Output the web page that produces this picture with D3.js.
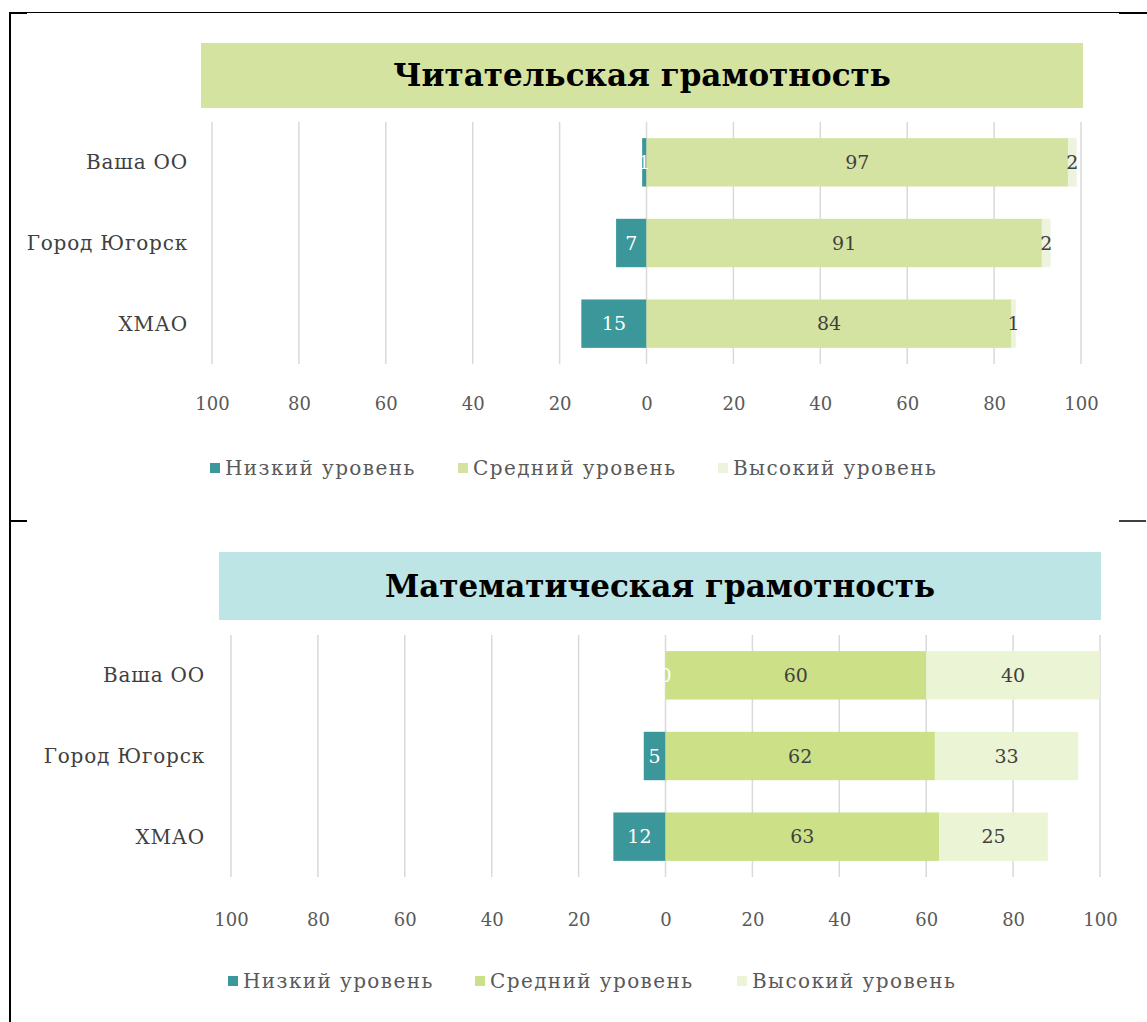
<!DOCTYPE html>
<html>
<head>
<meta charset="utf-8">
<script src="https://cdn.jsdelivr.net/npm/d3@7"></script>
<style>
    body { margin: 0; background: #fff; }
    svg { display: block; }
</style>
</head>
<body>
<div id="chart"></div>
<script>
// Data
const categories = ['Ваша ОО', 'Город Югорск', 'ХМАО'];
const seriesNames = ['Низкий уровень', 'Средний уровень', 'Высокий уровень'];
const axisTicks = [-100, -80, -60, -40, -20, 0, 20, 40, 60, 80, 100];

const readingTitle = 'Читательская грамотность';
const readingLow = [1, 7, 15];
const readingMid = [97, 91, 84];
const readingHigh = [2, 2, 1];

const mathTitle = 'Математическая грамотность';
const mathLow = [0, 5, 12];
const mathMid = [60, 62, 63];
const mathHigh = [40, 33, 25];

const W = 1147, H = 1022;
const FONT = '"DejaVu Serif", "Liberation Serif", serif';
const TEAL = '#3b9799';

const svg = d3.select('#chart').append('svg')
    .attr('width', W)
    .attr('height', H);

// page frame lines
const frame = svg.append('g').attr('stroke', '#000');
frame.append('line').attr('x1', 10).attr('y1', 12).attr('x2', 10).attr('y2', H).attr('stroke-width', 2);
frame.append('line').attr('x1', 10).attr('y1', 12.5).attr('x2', W).attr('y2', 12.5).attr('stroke-width', 1);
frame.append('line').attr('x1', 10).attr('y1', 13).attr('x2', 27).attr('y2', 13).attr('stroke-width', 2);
frame.append('line').attr('x1', 1119).attr('y1', 13).attr('x2', W).attr('y2', 13).attr('stroke-width', 2);
frame.append('line').attr('x1', 10).attr('y1', 521).attr('x2', 27).attr('y2', 521).attr('stroke-width', 2);
frame.append('line').attr('x1', 1119).attr('y1', 521).attr('x2', 1146).attr('y2', 521).attr('stroke-width', 1.5);

function drawPanel(opt) {
    const g = svg.append('g');

    // title box
    g.append('rect')
        .attr('x', opt.titleBox[0])
        .attr('y', opt.titleBox[1])
        .attr('width', opt.titleBox[2])
        .attr('height', opt.titleBox[3])
        .attr('fill', opt.titleFill);
    g.append('text')
        .attr('x', opt.titleBox[0] + opt.titleBox[2] / 2)
        .attr('y', opt.titleBox[1] + opt.titleBox[3] / 2)
        .attr('dy', '0.35em')
        .attr('text-anchor', 'middle')
        .style('font-family', FONT)
        .style('font-size', '31px')
        .style('font-weight', '700')
        .style('fill', '#000')
        .text(opt.title);

    const x = d3.scaleLinear().domain([-100, 100]).range([opt.x0, opt.x1]);
    const y = d3.scaleBand()
        .domain(categories)
        .range([opt.yTop, opt.yBottom])
        .paddingInner(0.4)
        .paddingOuter(0.2);

    // vertical gridlines
    g.append('g')
        .selectAll('line')
        .data(axisTicks)
        .join('line')
        .attr('x1', d => x(d))
        .attr('x2', d => x(d))
        .attr('y1', opt.yTop)
        .attr('y2', opt.yBottom)
        .attr('stroke', '#d9d9d9')
        .attr('stroke-width', 1.5);

    // stacked segments
    const rows = categories.map((c, i) => {
        const low = opt.low[i], mid = opt.mid[i], high = opt.high[i];
        return [
            { cat: c, s: 0, v: low, from: -low, to: 0 },
            { cat: c, s: 1, v: mid, from: 0, to: mid },
            { cat: c, s: 2, v: high, from: mid, to: mid + high }
        ];
    }).flat();

    g.append('g')
        .selectAll('rect')
        .data(rows)
        .join('rect')
        .attr('x', d => x(d.from))
        .attr('y', d => y(d.cat))
        .attr('width', d => x(d.to) - x(d.from))
        .attr('height', y.bandwidth())
        .attr('fill', d => opt.colors[d.s]);

    g.append('g')
        .selectAll('text')
        .data(rows)
        .join('text')
        .attr('x', d => (x(d.from) + x(d.to)) / 2)
        .attr('y', d => y(d.cat) + y.bandwidth() / 2)
        .attr('dy', '0.35em')
        .attr('text-anchor', 'middle')
        .style('font-family', FONT)
        .style('font-size', '19px')
        .style('fill', d => d.s === 0 ? '#fff' : '#404040')
        .text(d => d.v);

    // category labels
    g.append('g')
        .selectAll('text')
        .data(categories)
        .join('text')
        .attr('x', opt.catX)
        .attr('y', d => y(d) + y.bandwidth() / 2)
        .attr('dy', '0.35em')
        .attr('text-anchor', 'end')
        .style('font-family', FONT)
        .style('font-size', '20px')
        .style('letter-spacing', '0.8px')
        .style('fill', '#404040')
        .text(d => d);

    // bottom axis (absolute values)
    const axis = g.append('g')
        .attr('transform', `translate(0,${opt.tickY})`)
        .call(d3.axisBottom(x).tickValues(axisTicks).tickSize(0).tickFormat(d => Math.abs(d)));
    axis.select('.domain').remove();
    axis.selectAll('text')
        .style('font-family', FONT)
        .style('font-size', '18px')
        .style('fill', '#595959');

    // legend
    const legend = g.append('g')
        .selectAll('g')
        .data(seriesNames)
        .join('g')
        .attr('transform', (d, i) => `translate(${opt.legendX[i]},${opt.legendY})`);
    legend.append('rect')
        .attr('x', 0)
        .attr('y', -5)
        .attr('width', 10)
        .attr('height', 10)
        .attr('fill', (d, i) => opt.colors[i]);
    legend.append('text')
        .attr('x', 15)
        .attr('y', 0)
        .attr('dy', '0.35em')
        .style('font-family', FONT)
        .style('font-size', '20px')
        .style('letter-spacing', '1.4px')
        .style('fill', '#595959')
        .text(d => d);
}

drawPanel({
    title: readingTitle,
    titleBox: [201, 43, 882, 65],
    titleFill: '#d5e3a1',
    low: readingLow, mid: readingMid, high: readingHigh,
    colors: [TEAL, '#d5e3a2', '#eef3dd'],
    x0: 212, x1: 1081,
    yTop: 122, yBottom: 364,
    catX: 188,
    tickY: 394,
    legendX: [210, 458, 718],
    legendY: 468
});

drawPanel({
    title: mathTitle,
    titleBox: [219, 552, 882, 68],
    titleFill: '#bde5e5',
    low: mathLow, mid: mathMid, high: mathHigh,
    colors: [TEAL, '#cbe087', '#ecf4d6'],
    x0: 231, x1: 1100,
    yTop: 635, yBottom: 877,
    catX: 205,
    tickY: 910,
    legendX: [228, 475, 737],
    legendY: 981
});
</script>
</body>
</html>
